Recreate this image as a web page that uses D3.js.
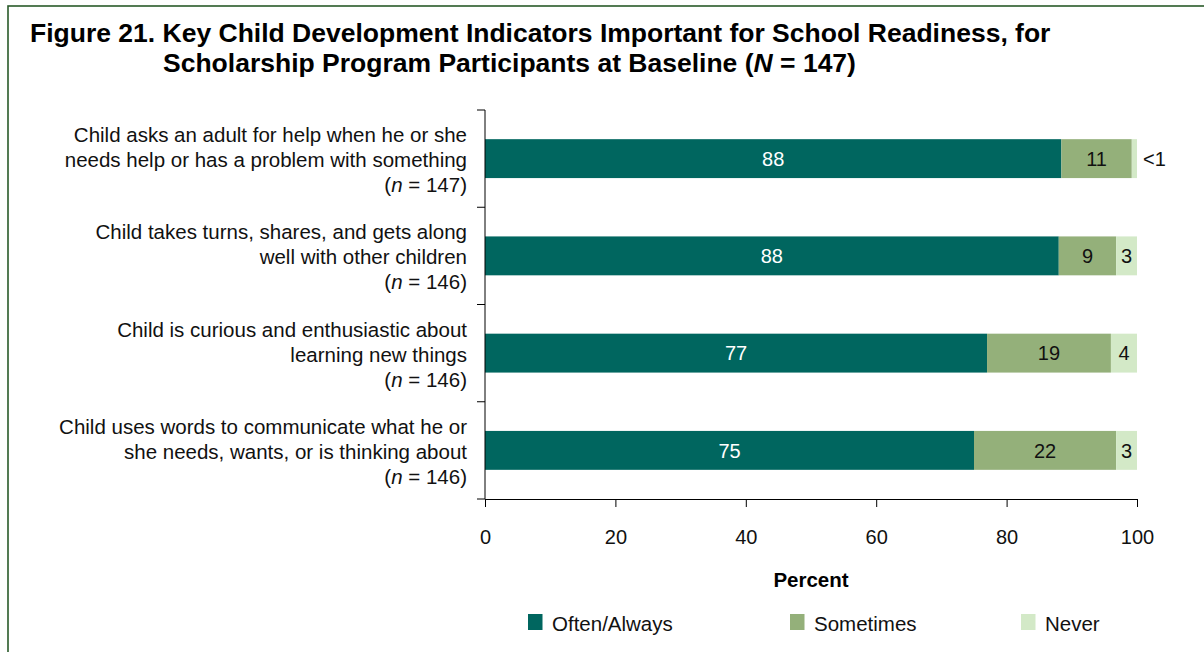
<!DOCTYPE html>
<html>
<head>
<meta charset="utf-8">
<script src="https://cdn.jsdelivr.net/npm/d3@7/dist/d3.min.js"></script>
<style>
  html, body { margin: 0; padding: 0; background: #fff; }
  svg { display: block; font-family: "Liberation Sans", Arial, sans-serif; }
</style>
</head>
<body>
<svg id="chart" width="1204" height="652"></svg>
<script>
// Indicator labels (each line drawn separately; last entry is the n)
const categories = [
  ["Child asks an adult for help when he or she", "needs help or has a problem with something", "147"],
  ["Child takes turns, shares, and gets along", "well with other children", "146"],
  ["Child is curious and enthusiastic about", "learning new things", "146"],
  ["Child uses words to communicate what he or", "she needs, wants, or is thinking about", "146"]
];
const seriesNames = ["Often/Always", "Sometimes", "Never"];
const oftenAlways = [88.4, 88.0, 77.0, 75.0];
const sometimes   = [10.8,  8.8, 19.0, 21.8];
const never       = [ 0.8,  3.2,  4.0,  3.2];
const xTicks = [0, 20, 40, 60, 80, 100];
const colors = ["#00665f", "#94b07a", "#d3e9c7"];

const svg = d3.select("#chart");

// Frame
svg.append("rect")
  .attr("x", 8).attr("y", 6).attr("width", 1204).attr("height", 660)
  .attr("fill", "none").attr("stroke", "#2a5a2a").attr("stroke-width", 1.6);

// Title
const title = svg.append("text").attr("font-weight", "bold").attr("font-size", 26.5).attr("fill", "#000");
title.append("tspan").attr("x", 30).attr("y", 41.5)
  .text("Figure 21. Key Child Development Indicators Important for School Readiness, for");
const t2 = title.append("tspan").attr("x", 163).attr("y", 72);
t2.append("tspan").text("Scholarship Program Participants at Baseline (");
t2.append("tspan").attr("font-style", "italic").text("N");
t2.append("tspan").text(" = 147)");

const plot = { left: 485, right: 1137, top: 110, bottom: 499 };

const x = d3.scaleLinear().domain([0, 100]).range([plot.left, plot.right]);
const y = d3.scaleBand().domain(d3.range(categories.length))
  .range([plot.top, plot.bottom]).paddingInner(0.6).paddingOuter(0.3);

const data = categories.map((c, i) => [oftenAlways[i], sometimes[i], never[i]]);
const stacked = d3.stack().keys([0, 1, 2])(data);

// Bars
stacked.forEach((layer, k) => {
  svg.append("g").selectAll("rect").data(layer).join("rect")
    .attr("x", d => x(d[0]))
    .attr("y", (d, i) => y(i))
    .attr("width", d => x(d[1]) - x(d[0]))
    .attr("height", y.bandwidth())
    .attr("fill", colors[k]);
});

// Value labels
const fmt = v => v < 1 ? "<1" : String(Math.round(v));
stacked.forEach((layer, k) => {
  svg.append("g").selectAll("text").data(layer).join("text")
    .attr("x", d => (d[1] - d[0] < 1) ? x(d[1]) + 6 : (x(d[0]) + x(d[1])) / 2)
    .attr("y", (d, i) => y(i) + y.bandwidth() / 2)
    .attr("dy", "0.36em")
    .attr("text-anchor", d => (d[1] - d[0] < 1) ? "start" : "middle")
    .attr("font-size", 20)
    .attr("fill", k === 0 ? "#fff" : "#111")
    .text(d => fmt(d[1] - d[0]));
});

// Y axis: line with ticks at category boundaries
const step = (plot.bottom - plot.top) / categories.length;
const yAxisG = svg.append("g");
yAxisG.append("line")
  .attr("x1", plot.left).attr("x2", plot.left)
  .attr("y1", plot.top).attr("y2", plot.bottom)
  .attr("stroke", "#000").attr("stroke-width", 1);
yAxisG.selectAll("line.tick").data(d3.range(categories.length + 1)).join("line")
  .attr("class", "tick")
  .attr("x1", plot.left - 8).attr("x2", plot.left)
  .attr("y1", d => plot.top + d * step).attr("y2", d => plot.top + d * step)
  .attr("stroke", "#000").attr("stroke-width", 1);

// Category labels
const lineGap = 25;
categories.forEach((c, i) => {
  const cy = y(i) + y.bandwidth() / 2 + 1;
  const t = svg.append("text").attr("text-anchor", "end").attr("font-size", 20.5).attr("fill", "#111");
  t.append("tspan").attr("x", 467).attr("y", cy - lineGap).attr("dy", "0.36em").text(c[0]);
  t.append("tspan").attr("x", 467).attr("y", cy).attr("dy", "0.36em").text(c[1]);
  const l3 = t.append("tspan").attr("x", 467).attr("y", cy + lineGap).attr("dy", "0.36em");
  l3.append("tspan").text("(");
  l3.append("tspan").attr("font-style", "italic").text("n");
  l3.append("tspan").text(" = " + c[2] + ")");
});

// X axis
const xAxis = d3.axisBottom(x).tickValues(xTicks).tickSize(8).tickSizeOuter(0).tickPadding(23);
const xg = svg.append("g").attr("transform", `translate(0,${plot.bottom})`).call(xAxis);
xg.select(".domain").attr("stroke", "#000");
xg.selectAll(".tick line").attr("stroke", "#000");
xg.selectAll(".tick text").attr("font-size", 20).attr("fill", "#111")
  .attr("font-family", "Liberation Sans, Arial, sans-serif");

svg.append("text")
  .attr("x", (plot.left + plot.right) / 2).attr("y", 587)
  .attr("text-anchor", "middle").attr("font-size", 20.5).attr("font-weight", "bold")
  .text("Percent");

// Legend
const legendX = [528, 790, 1021];
const lg = svg.append("g").selectAll("g").data(seriesNames).join("g")
  .attr("transform", (d, i) => `translate(${legendX[i]},614)`);
lg.append("rect").attr("width", 14.5).attr("height", 16).attr("fill", (d, i) => colors[i]);
lg.append("text").attr("x", 24).attr("y", 17).attr("font-size", 20.5).attr("fill", "#111").text(d => d);
</script>
</body>
</html>
